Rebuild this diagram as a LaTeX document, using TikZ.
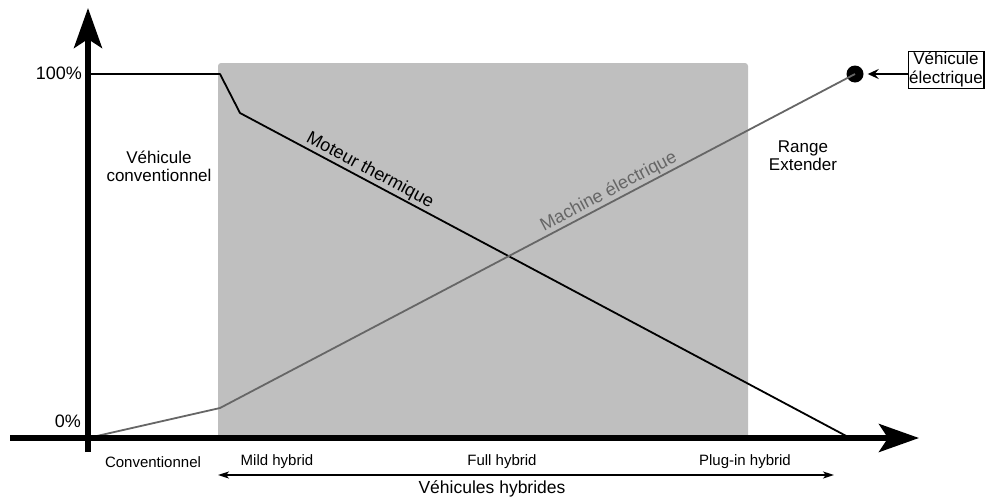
\documentclass[tikz,border=0pt]{standalone}
\usepackage{fontspec}
\setmainfont{Liberation Sans}
\usetikzlibrary{arrows.meta}
\definecolor{zone}{HTML}{BFBFBF}
\definecolor{elec}{HTML}{666666}
\begin{document}
\begin{tikzpicture}[x=1pt,y=-1pt,
  axis/.style={line width=5.5pt,-{Stealth[length=40pt,width=28pt,inset=9pt]}},
  curve/.style={line width=1.8pt},
  lbl/.style={font=\fontsize{15}{17}\selectfont,inner sep=0pt},
  tick/.style={font=\fontsize{18}{20}\selectfont,inner sep=0pt,anchor=east},
  along/.style={sloped,above=1pt,font=\fontsize{18}{20}\selectfont,inner sep=0pt},
  multi/.style={font=\fontsize{17}{18}\selectfont,align=center,inner sep=0pt}]
\useasboundingbox (0,0) rectangle (987,501);
% hybrid zone
\fill[zone,rounded corners=3pt] (218,63) rectangle (748,438);
% named points of the two curves
\coordinate (o) at (88,438);
\coordinate (t1) at (88,74);
\coordinate (t2) at (220,74);
\coordinate (t3) at (240,113);
\coordinate (t4) at (850,438);
\coordinate (e2) at (220,408);
\node[circle,fill=black,minimum size=17pt,inner sep=0pt] (dot) at (855,74) {};
% thermal engine share
\draw[curve,line join=round] (t1) -- (t2) -- (t3) -- node[pos=0.205,along]{Moteur thermique} (t4);
% electric machine share
\draw[curve,elec,line join=round] (o) -- (e2) -- node[pos=0.62,along,text=elec]{Machine électrique} (dot.center);
% axes
\coordinate (xa) at (10,438);
\coordinate (xb) at (919,438);
\coordinate (ya) at (88,452);
\coordinate (yb) at (88,8);
\draw[axis] (ya) -- (yb);
\draw[axis] (xa) -- (xb);
% axis values
\node[tick] (p100) at (82,73) {100\%};
\node[tick] (p0) at (81,421) {0\%};
% region labels
\node[multi] (conv) at (159,166) {Véhicule\\conventionnel};
\node[multi] (range) at (803,156) {Range\\Extender};
% electric vehicle box
\node[draw,line width=1.3pt,inner sep=1pt,font=\fontsize{17}{19}\selectfont,align=center] (ev) at (946,70) {Véhicule\\électrique};
\draw[line width=1.8pt,-{Stealth[length=11pt,width=10pt,inset=4pt]}] (ev.west |- dot) -- ([xshift=4pt]dot.east);
% categories on the x axis
\node[lbl] (c1) at (153,462) {Conventionnel};
\node[lbl] (c2) at (277,462) {Mild hybrid};
\node[lbl] (c3) at (502,462) {Full hybrid};
\node[lbl] (c4) at (745,462) {Plug-in hybrid};
\coordinate (ha) at (218,475);
\coordinate (hb) at (834,475);
\draw[line width=1.8pt,{Stealth[length=11pt,width=7pt,inset=3pt]}-{Stealth[length=11pt,width=7pt,inset=3pt]}] (ha) -- (hb);
\node[font=\fontsize{17.5}{19}\selectfont,inner sep=0pt] (hyb) at (492,489) {Véhicules hybrides};
\end{tikzpicture}
\end{document}
